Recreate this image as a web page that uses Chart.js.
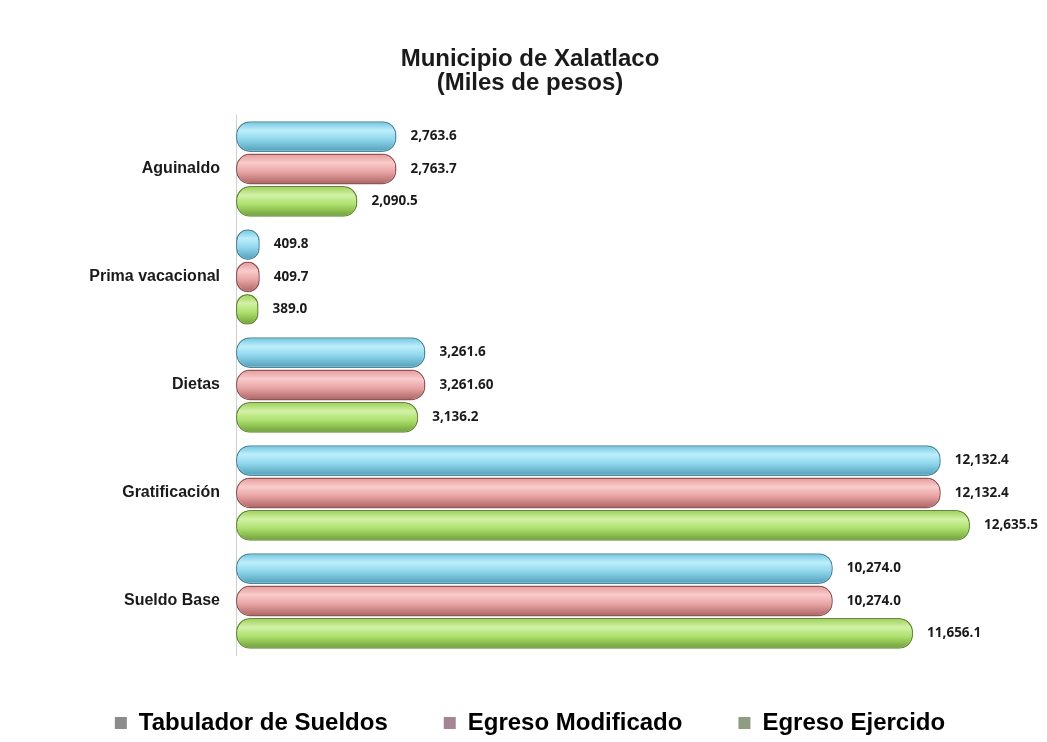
<!DOCTYPE html>
<html>
<head>
<meta charset="utf-8">
<script src="https://cdn.jsdelivr.net/npm/chart.js@4.4.1/dist/chart.umd.min.js"></script>
<style>
  html, body { margin: 0; padding: 0; background: #ffffff; }
  #wrap { width: 1047px; height: 742px; position: relative; }
</style>
</head>
<body>
<div id="wrap"><canvas id="bar-chart-area" width="1047" height="742"></canvas></div>
<script>
var arrLabel = ["Aguinaldo", "Prima vacacional", "Dietas", "Gratificación", "Sueldo Base"];
var arrTabulador = [2763.6, 409.8, 3261.6, 12132.4, 10274.0];
var arrModificado = [2763.7, 409.7, 3261.6, 12132.4, 10274.0];
var arrEjercido = [2090.5, 389.0, 3136.2, 12635.5, 11656.1];
var txtTabulador = ["2,763.6", "409.8", "3,261.6", "12,132.4", "10,274.0"];
var txtModificado = ["2,763.7", "409.7", "3,261.60", "12,132.4", "10,274.0"];
var txtEjercido = ["2,090.5", "389.0", "3,136.2", "12,635.5", "11,656.1"];

// colores: [arriba, brillo, medio, abajo, borde]
var arrColor = [
    ["#6cc2dc", "#bdeefb", "#8fd6ec", "#4f9db6", "#4a8aa0"],
    ["#e29797", "#f9cccc", "#e8a3a3", "#a86262", "#925656"],
    ["#9acf55", "#d3f1a6", "#ace06d", "#6f9d36", "#628c30"]
];
var legendColor = ["#8c8c8c", "#a58595", "#909c82"];

var barLabels = {
    id: 'barLabels',
    afterDatasetsDraw: function (chart) {
        var ctx = chart.ctx;
        var txt = [txtTabulador, txtModificado, txtEjercido];
        ctx.save();
        ctx.font = "bold 13.5px 'Open Sans'";
        ctx.fillStyle = "#1a1a1a";
        ctx.textBaseline = "middle";
        chart.data.datasets.forEach(function (ds, i) {
            chart.getDatasetMeta(i).data.forEach(function (bar, j) {
                ctx.fillText(txt[i][j], bar.x + 14, bar.y);
            });
        });
        ctx.restore();
    }
};

var cylinder = {
    id: 'cylinder',
    beforeDatasetsDraw: function (chart) {
        var ctx = chart.ctx;
        chart.data.datasets.forEach(function (ds, i) {
            var c = arrColor[i];
            chart.getDatasetMeta(i).data.forEach(function (bar) {
                var h = bar.height / 2;
                var g = ctx.createLinearGradient(0, bar.y - h, 0, bar.y + h);
                g.addColorStop(0, c[0]);
                g.addColorStop(0.3, c[1]);
                g.addColorStop(0.6, c[2]);
                g.addColorStop(1, c[3]);
                bar.options.backgroundColor = g;
            });
        });
    }
};

function makeSet(label, data, i) {
    return {
        label: label,
        data: data,
        backgroundColor: function () { return arrColor[i][2]; },
        borderColor: arrColor[i][4],
        borderWidth: 1.5,
        borderRadius: 14,
        borderSkipped: false,
        categoryPercentage: 0.9,
        barPercentage: 0.95
    };
}

var configBar = {
    type: 'bar',
    data: {
        labels: arrLabel,
        datasets: [
            makeSet('Tabulador de Sueldos', arrTabulador, 0),
            makeSet('Egreso Modificado', arrModificado, 1),
            makeSet('Egreso Ejercido', arrEjercido, 2)
        ]
    },
    options: {
        indexAxis: 'y',
        responsive: false,
        animation: false,
        layout: {
            padding: { left: 30, right: 17, top: 0, bottom: -3 }
        },
        scales: {
            x: {
                display: false,
                min: 0,
                max: 13668
            },
            y: {
                grid: { display: false },
                border: { display: true, color: '#cfcfcf', width: 1 },
                ticks: {
                    color: '#1a1a1a',
                    padding: 8,
                    font: { family: "'Liberation Sans', Arial", size: 16, weight: 'bold' }
                },
                afterFit: function (scale) { scale.width = 206; }
            }
        },
        plugins: {
            title: {
                display: true,
                text: ['Municipio de Xalatlaco', '(Miles de pesos)'],
                color: '#1a1a1a',
                font: { family: "'Liberation Sans', Arial", size: 24, weight: 'bold', lineHeight: 1.0 },
                padding: { top: 47, bottom: 20 }
            },
            legend: {
                position: 'bottom',
                labels: {
                    color: '#111',
                    boxWidth: 12,
                    boxHeight: 12,
                    padding: 56,
                    font: { family: "'Liberation Sans', Arial", size: 24, weight: 'bold' },
                    generateLabels: function (chart) {
                        return chart.data.datasets.map(function (ds, i) {
                            return {
                                text: ds.label,
                                fillStyle: legendColor[i],
                                strokeStyle: legendColor[i],
                                lineWidth: 0,
                                datasetIndex: i
                            };
                        });
                    }
                }
            },
            tooltip: { enabled: false }
        }
    },
    plugins: [cylinder, barLabels]
};

var myChartBar = document.getElementById("bar-chart-area").getContext("2d");
var myBar = new Chart(myChartBar, configBar);
</script>
</body>
</html>
